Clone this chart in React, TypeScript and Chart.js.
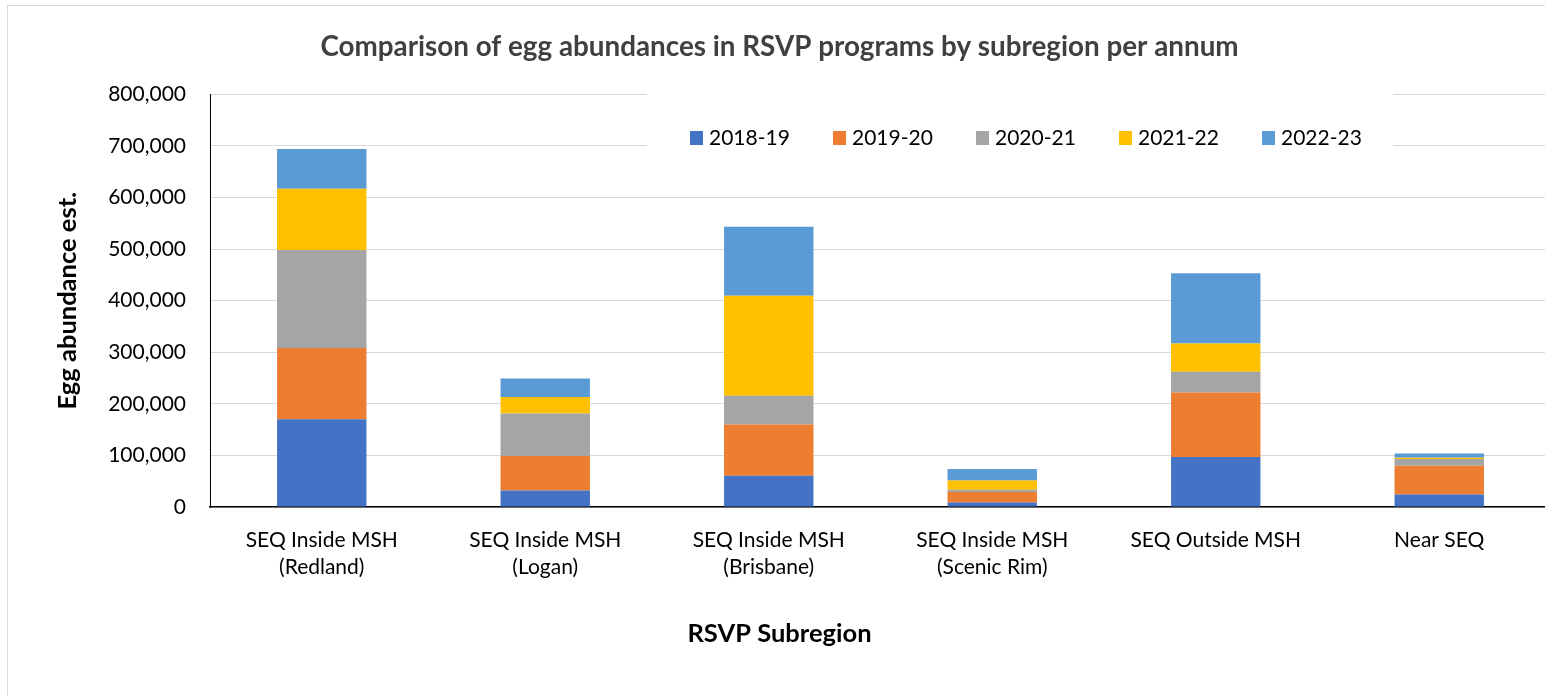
import React, { useEffect, useRef } from "react";
import { Chart, registerables } from "chart.js";

Chart.register(...registerables);

const categories: string[][] = [
  ["SEQ Inside MSH", "(Redland)"],
  ["SEQ Inside MSH", "(Logan)"],
  ["SEQ Inside MSH", "(Brisbane)"],
  ["SEQ Inside MSH", "(Scenic Rim)"],
  ["SEQ Outside MSH"],
  ["Near SEQ"],
];

const seriesNames = ["2018-19", "2019-20", "2020-21", "2021-22", "2022-23"];
const seriesColors = ["#4472C4", "#ED7D31", "#A5A5A5", "#FFC000", "#5B9BD5"];

const v2018_19 = [170000, 32000, 60500, 8500, 97000, 24000];
const v2019_20 = [138000, 67000, 99500, 20500, 125000, 56000];
const v2020_21 = [190000, 82000, 55500, 4500, 40000, 13000];
const v2021_22 = [119000, 32000, 194000, 18000, 55000, 2600];
const v2022_23 = [77000, 36000, 133500, 22000, 136000, 8300];

const seriesValues = [v2018_19, v2019_20, v2020_21, v2021_22, v2022_23];

const yTicksMax = 800000;
const yTickStep = 100000;

const chartTitle = "Comparison of egg abundances in RSVP programs by subregion per annum";
const yTitle = "Egg abundance est.";
const xTitle = "RSVP Subregion";

const FONT = "Lato, 'Open Sans', sans-serif";

const overlayLegend = {
  id: "overlayLegend",
  afterDraw(chart: any) {
    const ctx = chart.ctx as CanvasRenderingContext2D;
    ctx.save();
    ctx.fillStyle = "#ffffff";
    ctx.fillRect(639, 82, 746, 82);
    const startX = 682;
    const step = 143;
    const sqTop = 125;
    ctx.font = `21px ${FONT}`;
    ctx.textBaseline = "middle";
    ctx.textAlign = "left";
    chart.data.datasets.forEach((ds: any, i: number) => {
      const x = startX + i * step;
      ctx.fillStyle = ds.backgroundColor;
      ctx.fillRect(x, sqTop, 13, 14);
      ctx.fillStyle = "#000000";
      ctx.fillText(ds.label, x + 19, sqTop + 7);
    });
    ctx.restore();
  },
};

export default function App() {
  const ref = useRef<HTMLCanvasElement | null>(null);

  useEffect(() => {
    if (!ref.current) return;
    const chart = new Chart(ref.current, {
      type: "bar",
      data: {
        labels: categories,
        datasets: seriesNames.map((name, i) => ({
          label: name,
          data: seriesValues[i],
          backgroundColor: seriesColors[i],
          borderWidth: 0,
          barPercentage: 0.4,
          categoryPercentage: 1,
        })),
      },
      options: {
        responsive: false,
        animation: false,
        layout: { padding: { left: 0, right: 11, top: 0, bottom: 0 } },
        plugins: {
          legend: { display: false },
          tooltip: { enabled: false },
          title: {
            display: true,
            text: chartTitle,
            color: "#404040",
            font: { family: FONT, size: 27.8, weight: "bold", lineHeight: 1.2 },
            padding: { top: 24.3, bottom: 30.6 },
          },
          subtitle: {
            display: true,
            position: "bottom",
            text: xTitle,
            color: "#000000",
            font: { family: FONT, size: 25.5, weight: "bold", lineHeight: 1.2 },
            padding: { top: 0, bottom: 47.2 },
          },
        },
        scales: {
          x: {
            stacked: true,
            grid: { display: false, drawTicks: false },
            border: { display: true, color: "#000000", width: 1.5 },
            ticks: {
              color: "#000000",
              font: { family: FONT, size: 21, lineHeight: 1.3 },
              padding: 19.4,
              maxRotation: 0,
              autoSkip: false,
            },
            afterFit(scale: any) {
              scale.height = 111.2;
            },
          },
          y: {
            stacked: true,
            min: 0,
            max: yTicksMax,
            grid: { color: "#d9d9d9", lineWidth: 1, drawTicks: false },
            border: { display: true, color: "#000000", width: 1 },
            ticks: {
              stepSize: yTickStep,
              color: "#000000",
              font: { family: FONT, size: 21 },
              padding: 24,
              callback: (v: any) => Number(v).toLocaleString("en-US"),
            },
            title: {
              display: true,
              text: yTitle,
              color: "#000000",
              font: { family: FONT, size: 25.5, weight: "bold", lineHeight: 1.2 },
              padding: { top: 44.7, bottom: 0 },
            },
            afterFit(scale: any) {
              scale.width = 202;
            },
          },
        },
      },
      plugins: [overlayLegend],
    });
    return () => chart.destroy();
  }, []);

  return (
    <div
      style={{
        position: "fixed",
        left: 0,
        top: 0,
        width: 1545,
        height: 696,
        overflow: "hidden",
        background: "#ffffff",
      }}
    >
      <div
        style={{
          position: "absolute",
          left: 7,
          top: 5,
          width: 1700,
          height: 800,
          borderTop: "1px solid #d9d9d9",
          borderLeft: "1px solid #d9d9d9",
        }}
      >
        <canvas ref={ref} width={1554} height={690} style={{ display: "block" }} />
      </div>
    </div>
  );
}
